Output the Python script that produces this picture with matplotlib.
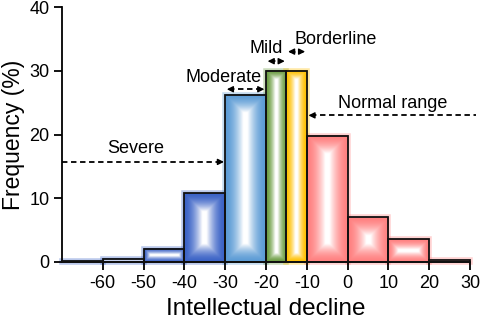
import numpy as np
import matplotlib
matplotlib.use("Agg")
import matplotlib.pyplot as plt
from matplotlib.colors import to_rgb
from matplotlib.patches import Rectangle

plt.rcParams['font.family'] = ['Liberation Sans', 'DejaVu Sans']
plt.rcParams['axes.unicode_minus'] = False

# ---- data ----
bin_left = [-70, -60, -50, -40, -30, -20, -15, -10, 0, 10, 20]
bin_width = [10, 10, 10, 10, 10, 5, 5, 10, 10, 10, 10]
frequency = [0.2, 0.5, 2.1, 10.8, 26.2, 30.0, 30.0, 19.8, 7.0, 3.6, 0.3]
category = ['Severe', 'Severe', 'Severe', 'Severe', 'Moderate', 'Mild',
            'Borderline', 'Normal range', 'Normal range', 'Normal range', 'Normal range']
xticks = [-60, -50, -40, -30, -20, -10, 0, 10, 20, 30]
yticks = [0, 10, 20, 30, 40]

colors = {'Severe': '#3a62c6', 'Moderate': '#5b9bd5', 'Mild': '#6a9c40',
          'Borderline': '#ffc000', 'Normal range': '#ff8080'}

W, H = 482, 321
fig = plt.figure(figsize=(W / 100, H / 100), dpi=100)
ax = fig.add_axes([62 / W, 1 - 262 / H, (470 - 62) / W, (262 - 7) / H])
xmin, xmax, ymin, ymax = -70, 30, 0, 40
ax.set_xlim(xmin, xmax)
ax.set_ylim(ymin, ymax)
sx = (470 - 62) / (xmax - xmin)   # px per x unit
sy = (262 - 7) / (ymax - ymin)    # px per y unit


def gradient_bar(x0, w, h, col):
    if h <= 0:
        return
    pw, ph = max(w * sx, 2), max(h * sy, 2)
    nx, ny = int(np.ceil(pw)) * 2, int(np.ceil(ph)) * 2
    xs = (np.arange(nx) + 0.5) / nx * pw
    ys = (np.arange(ny) + 0.5) / ny * ph
    X, Y = np.meshgrid(xs, ys)
    d = np.minimum(np.minimum(X, pw - X), np.minimum(Y, ph - Y))
    D = 0.9 * min(pw, ph) / 2
    t = np.clip(d / D, 0, 1) ** 1.8
    c = np.array(to_rgb(col))
    img = c[None, None, :] * (1 - t[..., None]) + t[..., None] * 1.0
    ax.imshow(img, extent=[x0, x0 + w, 0, h], origin='lower', aspect='auto',
              interpolation='bilinear', zorder=2)
    # glow
    ax.add_patch(Rectangle((x0, 0), w, h, fill=False, edgecolor=col, lw=4,
                           alpha=0.35, zorder=1.5, clip_on=False))
    ax.add_patch(Rectangle((x0, 0), w, h, fill=False, edgecolor='#111111',
                           lw=1.3, zorder=3, clip_on=False))


for x0, w, h, cat in zip(bin_left, bin_width, frequency, category):
    gradient_bar(x0, w, h, colors[cat])

ax.set_xlim(xmin, xmax)
ax.set_ylim(ymin, ymax)

for s in ['top', 'right']:
    ax.spines[s].set_visible(False)
for s in ['left', 'bottom']:
    ax.spines[s].set_linewidth(1.3)
ax.set_xticks(xticks)
ax.set_yticks(yticks)
ax.tick_params(direction='out', length=6, width=1.3, labelsize=13, pad=3)
ax.set_xlabel('Intellectual decline', fontsize=17.5, labelpad=5)
ax.set_ylabel('Frequency (%)', fontsize=16.5, labelpad=3)


def head(x_tip, y, direction):
    dx = 1.2 * direction
    ax.annotate('', xy=(x_tip, y), xytext=(x_tip - dx, y),
                arrowprops=dict(arrowstyle='-|>', color='black', lw=1.0,
                                mutation_scale=9, shrinkA=0, shrinkB=0),
                zorder=5, annotation_clip=False)


def dashed(x1, x2, y):
    ax.plot([x1, x2], [y, y], ls=(0, (3, 2)), color='black', lw=1.3,
            zorder=5, clip_on=False)


fs = 13
# Severe
dashed(-70, -31, 15.7)
head(-30.3, 15.7, 1)
ax.text(-52, 17.1, 'Severe', fontsize=fs, ha='center', va='baseline')
# Moderate
dashed(-29, -21, 27.1)
head(-29.6, 27.1, -1)
head(-20.4, 27.1, 1)
ax.text(-30.4, 28.2, 'Moderate', fontsize=fs, ha='center', va='baseline')
# Mild
dashed(-19, -16, 31.5)
head(-19.6, 31.5, -1)
head(-15.4, 31.5, 1)
ax.text(-20.0, 32.8, 'Mild', fontsize=fs, ha='center', va='baseline')
# Borderline
dashed(-14, -11, 33.0)
head(-14.6, 33.0, -1)
head(-10.4, 33.0, 1)
ax.text(-2.8, 34.2, 'Borderline', fontsize=fs, ha='center', va='baseline')
# Normal range
dashed(-9, 31.4, 23.0)
head(-9.6, 23.0, -1)
ax.text(11.1, 24.2, 'Normal range', fontsize=fs, ha='center', va='baseline')

fig.savefig('out.png', dpi=100)
